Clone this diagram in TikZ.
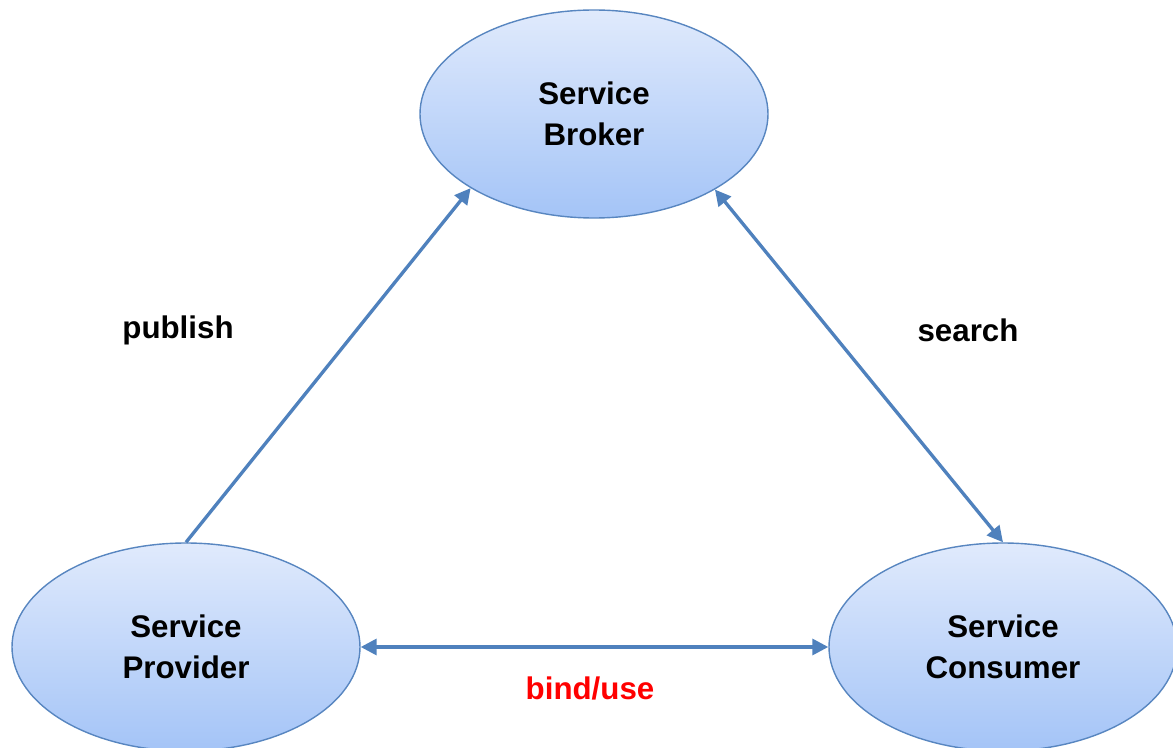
\documentclass[tikz,border=0pt]{standalone}
\usepackage{fontspec}
\setmainfont{Liberation Sans}
\usetikzlibrary{shapes.geometric,arrows.meta}
\definecolor{elltop}{RGB}{224,234,252}
\definecolor{ellbot}{RGB}{164,196,247}
\definecolor{ellline}{RGB}{88,134,192}
\definecolor{arrcol}{RGB}{79,129,189}
\tikzset{
  svc/.style = {ellipse, draw = ellline, line width = .8pt, top color = elltop, bottom color = ellbot,
    minimum width = 6.96cm, minimum height = 4.16cm, inner sep = 0pt, align = center,
    font = \fontsize{17.8}{23}\selectfont\bfseries},
  link/.style = {draw = arrcol, line width = 1.9pt},
  tip/.style = {-{Triangle[length = 9pt, width = 9pt]}},
  dtip/.style = {{Triangle[length = 9pt, width = 9pt]}-{Triangle[length = 9pt, width = 9pt]}},
  lbl/.style = {font = \fontsize{17.8}{23}\selectfont\bfseries}
}
\begin{document}
\begin{tikzpicture}
  \useasboundingbox (0,0) rectangle (23.46,14.94);
  \node[svc] (brk) at (11.88,12.66) {Service\\Broker};
  \node[svc] (prov) at (3.72,2.0) {Service\\Provider};
  \node[svc] (cons) at (20.06,2.0) {Service\\Consumer};

  \draw[link, tip] (prov.north) -- (brk.211);
  \draw[link, dtip] (brk.328) -- (cons.north);
  \draw[link, dtip] (prov.east) -- (cons.west);

  \node[lbl] (pub) at (3.56,8.34) {publish};
  \node[lbl] (srch) at (19.36,8.34) {search};
  \node[lbl, text = red] (bind) at (11.8,1.18) {bind/use};
\end{tikzpicture}
\end{document}
